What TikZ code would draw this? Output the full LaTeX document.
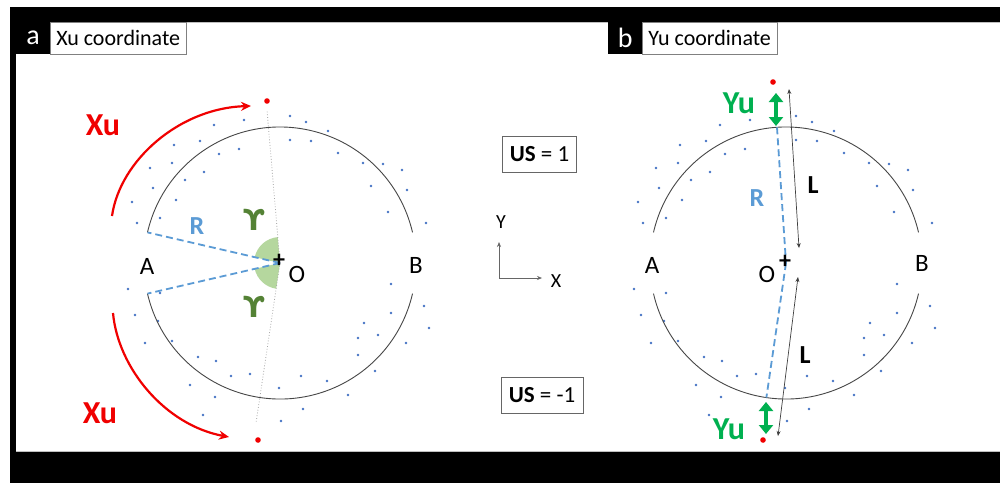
\documentclass[tikz,border=0pt]{standalone}
\usepackage{fontspec}
\setmainfont{Carlito}
\newfontfamily\dejavu{DejaVu Sans}
\usetikzlibrary{arrows.meta}
\definecolor{xured}{RGB}{240,0,0}
\definecolor{yugreen}{RGB}{0,176,80}
\definecolor{upsgreen}{RGB}{84,130,53}
\definecolor{wedgegreen}{RGB}{169,209,142}
\definecolor{lblue}{RGB}{91,155,213}
\definecolor{dotblue}{RGB}{68,114,196}
\definecolor{circgray}{RGB}{70,70,70}
\tikzset{
  circ/.style={draw=circgray, line width=0.9pt},
  dotl/.style={draw=gray!70, line width=0.8pt, dotted},
  rdash/.style={draw=lblue, line width=1.8pt, dash pattern=on 7pt off 4pt},
  wedge/.style={fill=wedgegreen, fill opacity=0.85},
  redarr/.style={draw=xured, line width=2.2pt, -{Stealth[length=10pt,width=9pt]}},
  yuarr/.style={draw=yugreen, line width=3.5pt, {Triangle[length=9pt,width=14pt]}-{Triangle[length=9pt,width=14pt]}},
  larr/.style={draw=black!75, line width=0.7pt, {Stealth[length=5pt,width=4pt]}-{Stealth[length=5pt,width=4pt]}},
  axarr/.style={draw=black!60, line width=0.7pt, -{Stealth[length=5pt,width=4pt]}},
  reddot/.style={fill=xured},
  bigred/.style={text=xured, font=\fontsize{32}{32}\selectfont\bfseries, inner sep=0pt},
  bigyu/.style={text=yugreen, font=\fontsize{32}{32}\selectfont\bfseries, inner sep=0pt},
  rlab/.style={text=lblue, font=\fontsize{26}{26}\selectfont\bfseries, inner sep=0pt},
  llab/.style={text=black, font=\fontsize{26}{26}\selectfont\bfseries, inner sep=0pt},
  ups/.style={text=upsgreen, font=\fontsize{29}{29}\dejavu\bfseries, inner sep=0pt},
  ptlab/.style={text=black, font=\fontsize{25}{25}\selectfont, inner sep=0pt},
  plus/.style={text=black, font=\fontsize{24}{24}\selectfont\bfseries, inner sep=0pt},
  tagbox/.style={fill=black, text=white, anchor=north west, inner sep=0pt, minimum width=34pt, minimum height=32pt, font=\fontsize{28}{28}\selectfont},
  titlebox/.style={draw=gray, fill=white, anchor=north west, inner sep=0pt, minimum height=32pt, font=\fontsize{22}{22}\selectfont},
  usbox/.style={draw=gray!80!black, line width=0.9pt, fill=white, minimum height=36pt, inner sep=0pt, font=\fontsize{23}{23}\selectfont},
  axlab/.style={text=black, font=\fontsize{20}{20}\selectfont, inner sep=0pt}
}
\newcommand{\dotsring}{%
  \foreach \dx/\dy in {-66/-138,-36/-143,10/-147,26/-141,10/-123,31/-122,
    -106/-118,-80/-122,-61/-109,-41/-114,-130/-95,-108/-100,-76/-91,-95/-83,
    -127/-75,-104/-63,-148/-61,-143/-40,-120/-45,
    48/-132,58/-110,83/-100,103/-99,122/-93,91/-77,127/-73,108/-51,146/-40,
    111/21,144/43,111/50,84/60,149/65,98/72,78/75,126/80,
    95/108,78/92,68/132,47/118,
    -152/26,-120/30,-145/52,-122/58,-135/80,-108/78,
    -82/94,-64/98,-49/113,-30/111,-65/134,-90/122,-77/152,-1/125,21/113,23/146,1/158}
    {\fill[dotblue] (\dx,\dy) circle[radius=1.3];}%
}
\begin{document}
\begin{tikzpicture}[x=1pt,y=-1pt]
\useasboundingbox (0,0) rectangle (1000,483);
\fill[white] (0,0) rectangle (1000,483);
% frame
\fill[black] (10,7) rectangle (1000,22);
\fill[black] (10,7) rectangle (16,483);
\fill[black] (10,452) rectangle (1000,483);
\draw[gray!50, line width=0.8pt] (16,22.4) -- (1000,22.4);
\draw[gray!50, line width=0.8pt] (16,451.6) -- (1000,451.6);
% titles
\node[tagbox] (taga) at (16,22) {a};
\node[titlebox, minimum width=136pt] (titlea) at (50,22) {Xu coordinate};
\node[tagbox] (tagb) at (608,22) {b};
\node[titlebox, minimum width=135pt] (titleb) at (642,22) {Yu coordinate};

% ================= LEFT PANEL =================
\coordinate (OL) at (280,263);
\path (OL) ++(-167:136) coordinate (ALt);
\path (OL) ++(167:136) coordinate (ALb);
\path (OL) ++(-13:136) coordinate (BLt);
\path (OL) ++(13:136) coordinate (BLb);
\coordinate (TopL) at (267,110);
\coordinate (BotL) at (256,423);
% wedges
\fill[wedge] (OL) -- ++(-95:26) arc[start angle=-95, end angle=-167, radius=26] -- cycle;
\fill[wedge] (OL) -- ++(98.5:26) arc[start angle=98.5, end angle=167, radius=26] -- cycle;
% dots
\begin{scope}[shift={(280,263)}]\dotsring\end{scope}
% circle
\draw[circ] (ALt) arc[start angle=-167, end angle=-13, radius=136];
\draw[circ] (BLb) arc[start angle=13, end angle=167, radius=136];
% lines
\draw[dotl] (OL) -- (TopL);
\draw[dotl] (OL) -- (BotL);
\draw[rdash] (OL) -- (ALt);
\draw[rdash] (OL) -- (ALb);
% red dots and arrows
\fill[reddot] (267,101) circle[radius=2.8];
\fill[reddot] (258,440) circle[radius=2.8];
\coordinate (xs1) at (112,216);
\coordinate (xe1) at (251,106);
\coordinate (xs2) at (113,313);
\coordinate (xe2) at (229,437);
\draw[redarr] (xs1) .. controls (120,160) and (180,108) .. (xe1);
\draw[redarr] (xs2) .. controls (118,368) and (165,425) .. (xe2);
% labels
\node[bigred] (xu1) at (103,125) {Xu};
\node[bigred] (xu2) at (100,413) {Xu};
\node[rlab] (rL) at (197,226) {R};
\node[ups] (up1) at (254,220) {ϒ};
\node[ups] (up2) at (254,307) {ϒ};
\node[ptlab] (aL) at (147,266) {A};
\node[ptlab] (oL) at (297,274) {O};
\node[ptlab] (bL) at (416,265) {B};
\node[plus] (plL) at (279,261) {+};

% ================= MIDDLE =================
\node[usbox, minimum width=74pt] (us1) at (539.5,154.5) {\textbf{US} = 1};
\node[usbox, minimum width=82pt] (us2) at (542,395) {\textbf{US} = -1};
\coordinate (ax0) at (499,278);
\coordinate (axY) at (499,242);
\coordinate (axX) at (542,278);
\draw[axarr] (ax0) -- (axY);
\draw[axarr] (ax0) -- (axX);
\node[axlab] (labY) at (501,222) {Y};
\node[axlab] (labX) at (556,281) {X};

% ================= RIGHT PANEL =================
\coordinate (OR) at (786,263);
\path (OR) ++(-167:136) coordinate (ARt);
\path (OR) ++(167:136) coordinate (ARb);
\path (OR) ++(-13:136) coordinate (BRt);
\path (OR) ++(13:136) coordinate (BRb);
\path (OR) ++(-93.8:136) coordinate (TopR);
\path (OR) ++(98.3:136) coordinate (BotR);
\begin{scope}[shift={(786,263)}]\dotsring\end{scope}
\draw[circ] (ARt) arc[start angle=-167, end angle=-13, radius=136];
\draw[circ] (BRb) arc[start angle=13, end angle=167, radius=136];
\draw[rdash] (TopR) -- (OR);
\draw[rdash] (OR) -- (BotR);
% L arrows
\coordinate (l1a) at (789,89);
\coordinate (l1b) at (799,248);
\coordinate (l2a) at (798,277);
\coordinate (l2b) at (778,436);
\draw[larr] (l1a) -- (l1b);
\draw[larr] (l2a) -- (l2b);
% red dots, green arrows
\fill[reddot] (773,82) circle[radius=2.8];
\fill[reddot] (763,440) circle[radius=2.8];
\coordinate (ya1) at (776,93);
\coordinate (ya2) at (776,126);
\coordinate (yb1) at (766,402);
\coordinate (yb2) at (766,434);
\draw[yuarr] (ya1) -- (ya2);
\draw[yuarr] (yb1) -- (yb2);
% labels
\node[bigyu] (yu1) at (739,103) {Yu};
\node[bigyu] (yu2) at (729,429) {Yu};
\node[rlab] (rR) at (757,198) {R};
\node[llab] (L1) at (813,185) {L};
\node[llab] (L2) at (805,355) {L};
\node[ptlab] (aR) at (652,265) {A};
\node[ptlab] (oR) at (767,274) {O};
\node[ptlab] (bR) at (922,263) {B};
\node[plus] (plR) at (785,262) {+};
\end{tikzpicture}
\end{document}
